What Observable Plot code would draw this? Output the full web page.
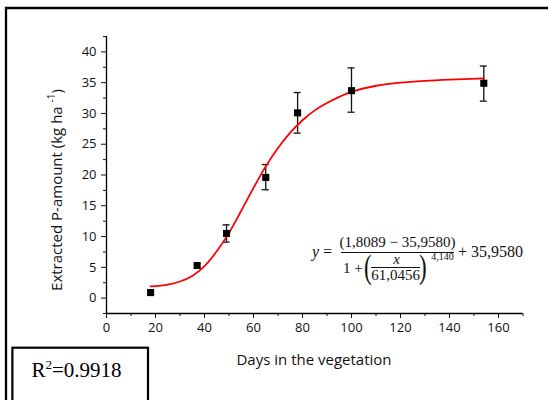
<!DOCTYPE html>
<html><head><meta charset="utf-8">
<script src="https://cdn.jsdelivr.net/npm/d3@7"></script>
<script src="https://cdn.jsdelivr.net/npm/@observablehq/plot@0.6"></script>
<style>
body{margin:0;background:#fff;}
#wrap{position:relative;width:548px;height:400px;overflow:hidden;background:#fff;}
#wrap svg{position:absolute;left:0;top:0;}
</style></head>
<body><div id="wrap"></div>
<script>
// measured points
const days = [18, 37, 49, 65, 78, 100, 154];
const amounts = [0.9, 5.3, 10.5, 19.6, 30.1, 33.7, 34.9];
const errLow = [null, null, 9.1, 17.6, 26.8, 30.2, 32.0];
const errHigh = [null, null, 11.9, 21.7, 33.4, 37.4, 37.7];
// fitted curve
const fitDays = [18, 25, 30, 35, 40, 45, 50, 55, 60, 65, 70, 75, 80, 85, 90, 95, 100, 110, 120, 130, 140, 154];
const fitValues = [1.9, 2.2, 2.7, 3.6, 5.2, 7.6, 10.6, 14.2, 17.9, 21.4, 24.4, 26.9, 28.9, 30.5, 31.7, 32.7, 33.5, 34.5, 35.0, 35.3, 35.5, 35.7];
// axes
const xDomain = [0, 170];
const yDomain = [-2.5, 42.5];
const xTicks = [0, 20, 40, 60, 80, 100, 120, 140, 160];
const xMinor = [10, 30, 50, 70, 90, 110, 130, 150, 170];
const yTicks = [0, 5, 10, 15, 20, 25, 30, 35, 40];
const yMinor = [-2.5, 2.5, 7.5, 12.5, 17.5, 22.5, 27.5, 32.5, 37.5, 42.5];
const xTitle = "Days in the vegetation";
const yTitle = "Extracted P-amount (kg ha";
const rSquared = "0.9918";

const points = days.map((d, i) => ({x: d, y: amounts[i], lo: errLow[i], hi: errHigh[i]}));
const bars = points.filter(p => p.lo != null);
const fit = fitDays.map((d, i) => ({x: d, y: fitValues[i]}));

const chart = Plot.plot({
  width: 548, height: 400,
  marginLeft: 106, marginRight: 25.5, marginTop: 36, marginBottom: 87,
  x: {domain: xDomain},
  y: {domain: yDomain},
  style: {fontFamily: "'Open Sans', sans-serif", fontSize: "13px", color: "#111", background: "transparent"},
  marks: [
    Plot.axisX(xTicks, {tickSize: 5, tickPadding: 4, label: null}),
    Plot.axisX(xMinor, {tickSize: 3, tickFormat: () => "", label: null}),
    Plot.axisY(yTicks, {tickSize: 5, tickPadding: 5, label: null}),
    Plot.axisY(yMinor, {tickSize: 3, tickFormat: () => "", label: null}),
    Plot.ruleX([xDomain[0]], {stroke: "#000", strokeWidth: 1.3}),
    Plot.ruleY([yDomain[0]], {stroke: "#000", strokeWidth: 1.3}),
    Plot.ruleX(bars, {x: "x", y1: "lo", y2: "hi", stroke: "#111", strokeWidth: 1.3}),
    Plot.ruleY(bars, {y: "lo", x1: "x", x2: "x", insetLeft: -3.5, insetRight: -3.5, stroke: "#111", strokeWidth: 1.3}),
    Plot.ruleY(bars, {y: "hi", x1: "x", x2: "x", insetLeft: -3.5, insetRight: -3.5, stroke: "#111", strokeWidth: 1.3}),
    Plot.line(fit, {x: "x", y: "y", stroke: "#ff0000", strokeWidth: 1.8, curve: "catmull-rom"}),
    Plot.dot(points, {x: "x", y: "y", symbol: "square", r: 4, fill: "#000"})
  ]
});
const wrap = document.getElementById("wrap");
wrap.appendChild(chart);

// annotations overlay
const NS = "http://www.w3.org/2000/svg";
const ov = document.createElementNS(NS, "svg");
ov.setAttribute("width", 548); ov.setAttribute("height", 400);
wrap.appendChild(ov);
function el(tag, attrs, text) {
  const e = document.createElementNS(NS, tag);
  for (const k in attrs) e.setAttribute(k, attrs[k]);
  if (text != null) e.textContent = text;
  ov.appendChild(e);
  return e;
}
const serif = "'Liberation Serif', 'Times New Roman', serif";
const sans = "'Open Sans', sans-serif";
// outer frame
el("path", {d: "M6,400V8H548", fill: "none", stroke: "#000", "stroke-width": 2.3});
// R2 box
el("rect", {x: 12.4, y: 347.7, width: 135.6, height: 80, fill: "none", stroke: "#000", "stroke-width": 2.2});
const rt = el("text", {x: 31.5, y: 377, "font-family": serif, "font-size": 21, fill: "#000"});
rt.appendChild(document.createTextNode("R"));
const sup = document.createElementNS(NS, "tspan"); sup.setAttribute("dy", -8); sup.setAttribute("font-size", 13); sup.textContent = "2"; rt.appendChild(sup);
const rest = document.createElementNS(NS, "tspan"); rest.setAttribute("dy", 8); rest.textContent = "=" + rSquared; rt.appendChild(rest);
// x title
el("text", {x: 314, y: 365, "text-anchor": "middle", "font-family": sans, "font-size": 15, fill: "#111"}, xTitle);
// y title
const yt = el("text", {transform: "translate(62,190) rotate(-90)", "text-anchor": "middle", "font-family": sans, "font-size": 15, fill: "#111"});
yt.appendChild(document.createTextNode(yTitle + " "));
const ys = document.createElementNS(NS, "tspan"); ys.setAttribute("dy", -7); ys.setAttribute("font-size", 10); ys.textContent = "-1"; yt.appendChild(ys);
const ye = document.createElementNS(NS, "tspan"); ye.setAttribute("dy", 7); ye.textContent = ")"; yt.appendChild(ye);
// equation
const eq = {"font-family": serif, fill: "#111"};
const ty = el("text", {...eq, x: 312, y: 256.5, "font-size": 16});
const yi = document.createElementNS(NS, "tspan"); yi.setAttribute("font-style", "italic"); yi.textContent = "y"; ty.appendChild(yi);
ty.appendChild(document.createTextNode(" ="));
el("text", {...eq, x: 397.5, y: 247, "text-anchor": "middle", "font-size": 15}, "(1,8089 \u2212 35,9580)");
el("line", {x1: 341, x2: 454, y1: 252.5, y2: 252.5, stroke: "#111", "stroke-width": 1});
el("text", {...eq, x: 343, y: 272.5, "font-size": 15}, "1 +");
el("text", {...eq, x: 364, y: 278, "font-size": 33, transform: "translate(364,0) scale(0.7,1) translate(-364,0)"}, "(");
el("text", {...eq, x: 419, y: 278, "font-size": 33, transform: "translate(419,0) scale(0.7,1) translate(-419,0)"}, ")");
el("text", {...eq, x: 396.5, y: 263.5, "text-anchor": "middle", "font-size": 15, "font-style": "italic"}, "x");
el("line", {x1: 371, x2: 420, y1: 267.5, y2: 267.5, stroke: "#111", "stroke-width": 1});
el("text", {...eq, x: 395.5, y: 280, "text-anchor": "middle", "font-size": 15}, "61,0456");
el("text", {...eq, x: 442.5, y: 260, "text-anchor": "middle", "font-size": 10}, "4,140");
el("text", {...eq, x: 458, y: 256.5, "font-size": 16}, "+ 35,9580");
</script>
</body></html>
